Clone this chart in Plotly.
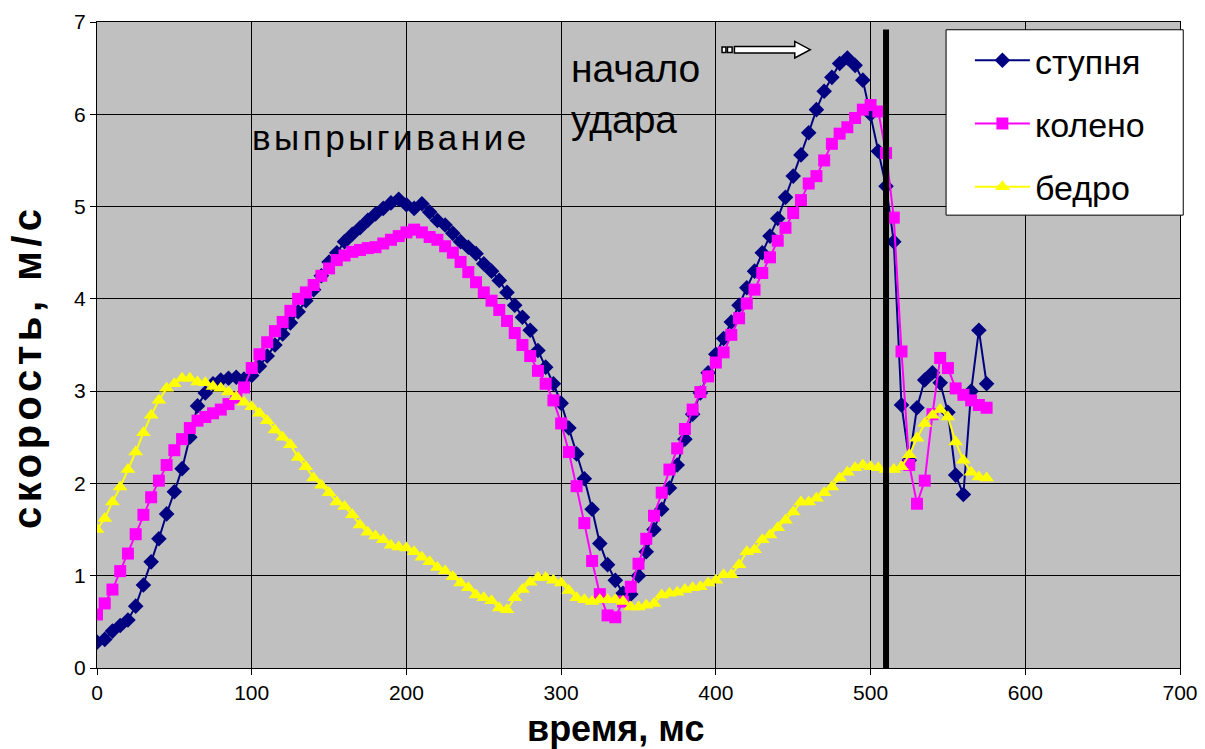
import plotly.graph_objects as go

# time, ms (sampling step 5 ms)
time_ms = [i * 5 for i in range(116)]

# foot velocity, m/s
stupnya = [
    0.28, 0.31, 0.40, 0.46, 0.52, 0.67, 0.90, 1.15, 1.40, 1.67,
    1.91, 2.16, 2.50, 2.84, 2.98, 3.08, 3.12, 3.14, 3.15, 3.13,
    3.17, 3.27, 3.38, 3.50, 3.62, 3.74, 3.86, 3.98, 4.10, 4.25,
    4.40, 4.50, 4.62, 4.70, 4.77, 4.85, 4.92, 4.98, 5.04, 5.08,
    5.02, 4.98, 5.03, 4.94, 4.85, 4.80, 4.71, 4.62, 4.56, 4.49,
    4.38, 4.30, 4.20, 4.07, 3.93, 3.80, 3.66, 3.44, 3.26, 3.08,
    2.87, 2.60, 2.32, 2.05, 1.72, 1.35, 1.12, 0.95, 0.81, 0.80,
    1.00, 1.26, 1.50, 1.72, 1.95, 2.20, 2.48, 2.75, 2.98, 3.20,
    3.40, 3.57, 3.75, 3.93, 4.12, 4.30, 4.50, 4.68, 4.87, 5.10,
    5.33, 5.56, 5.80, 6.05, 6.25, 6.40, 6.55, 6.61, 6.53, 6.37,
    6.00, 5.60, 5.22, 4.62, 2.85, 2.25, 2.82, 3.12, 3.20, 3.09,
    2.77, 2.09, 1.88, 3.00, 3.66, 3.08,
]

# knee velocity, m/s
koleno = [
    0.58, 0.70, 0.85, 1.05, 1.24, 1.45, 1.66, 1.85, 2.03, 2.20,
    2.36, 2.48, 2.60, 2.68, 2.72, 2.76, 2.80, 2.86, 2.93, 3.04,
    3.25, 3.40, 3.53, 3.65, 3.75, 3.87, 4.00, 4.07, 4.15, 4.25,
    4.33, 4.42, 4.47, 4.51, 4.53, 4.55, 4.56, 4.60, 4.64, 4.68,
    4.72, 4.75, 4.72, 4.67, 4.64, 4.57, 4.50, 4.40, 4.29, 4.18,
    4.07, 3.98, 3.88, 3.76, 3.63, 3.50, 3.38, 3.22, 3.08, 2.90,
    2.65, 2.34, 1.97, 1.57, 1.16, 0.80, 0.57, 0.55, 0.72, 0.88,
    1.13, 1.40, 1.65, 1.90, 2.15, 2.38, 2.59, 2.80, 2.99, 3.16,
    3.31, 3.42, 3.61, 3.79, 3.95, 4.10, 4.28, 4.45, 4.63, 4.77,
    4.93, 5.07, 5.25, 5.33, 5.50, 5.68, 5.79, 5.86, 5.96, 6.05,
    6.10, 6.03, 5.58, 4.88, 3.43, 2.20, 1.78, 2.03, 2.75, 3.36,
    3.25, 3.03, 2.96, 2.90, 2.85, 2.82,
]

# hip velocity, m/s
bedro = [
    1.50, 1.62, 1.80, 1.96, 2.15, 2.34, 2.55, 2.74, 2.90, 3.03,
    3.08, 3.14, 3.14, 3.10, 3.09, 3.05, 3.03, 2.99, 2.94, 2.88,
    2.83, 2.76, 2.68, 2.58, 2.50, 2.42, 2.28, 2.18, 2.06, 1.98,
    1.90, 1.80, 1.75, 1.66, 1.55, 1.47, 1.43, 1.39, 1.33, 1.31,
    1.30, 1.26, 1.20, 1.15, 1.09, 1.05, 0.99, 0.92, 0.87, 0.79,
    0.76, 0.73, 0.65, 0.63, 0.76, 0.85, 0.93, 0.98, 0.98, 0.95,
    0.92, 0.84, 0.76, 0.74, 0.72, 0.74, 0.74, 0.74, 0.72, 0.66,
    0.66, 0.68, 0.70, 0.79, 0.81, 0.82, 0.85, 0.87, 0.88, 0.92,
    0.95, 1.01, 1.01, 1.12, 1.26, 1.28, 1.39, 1.44, 1.52, 1.60,
    1.69, 1.80, 1.80, 1.84, 1.90, 1.96, 2.06, 2.12, 2.17, 2.20,
    2.18, 2.17, 2.15, 2.15, 2.18, 2.31, 2.49, 2.65, 2.74, 2.80,
    2.72, 2.45, 2.25, 2.12, 2.07, 2.06,
]

x_ticks = [0, 100, 200, 300, 400, 500, 600, 700]
y_ticks = [0, 1, 2, 3, 4, 5, 6, 7]
impact_time = 510

FONT = "Liberation Sans, Arial, sans-serif"

fig = go.Figure()
series = [
    ("ступня", stupnya, "#000080", "diamond", 12),
    ("колено", koleno, "#FF00FF", "square", 12),
    ("бедро", bedro, "#FFFF00", "triangle-up", 13),
]
for name, vals, color, sym, size in series:
    fig.add_trace(go.Scatter(
        x=time_ms, y=vals, name=name, mode="lines+markers",
        line=dict(color=color, width=2),
        marker=dict(symbol=sym, size=size, color=color, line=dict(width=0)),
        legendgroup=name,
    ))

# thick vertical line: start of impact
fig.add_shape(type="line", xref="x", yref="y", x0=impact_time, x1=impact_time,
              y0=0, y1=6.92, line=dict(color="black", width=6), layer="above")

# block arrow near the top
ax0, ax1, ay = 404, 461, 6.70
fig.add_shape(type="rect", xref="x", yref="y", x0=ax0, x1=ax0 + 2.5, y0=ay - 0.03, y1=ay + 0.03,
              line=dict(color="black", width=1.5), fillcolor="white")
fig.add_shape(type="rect", xref="x", yref="y", x0=ax0 + 3.5, x1=ax0 + 6.5, y0=ay - 0.03, y1=ay + 0.03,
              line=dict(color="black", width=1.5), fillcolor="white")
path = (f"M {ax0+8} {ay-0.035} L {ax1-10} {ay-0.035} L {ax1-10} {ay-0.09} L {ax1} {ay} "
        f"L {ax1-10} {ay+0.09} L {ax1-10} {ay+0.035} L {ax0+8} {ay+0.035} Z")
fig.add_shape(type="path", xref="x", yref="y", path=path,
              line=dict(color="black", width=1.5), fillcolor="white")

# legend box (drawn as a shape so its size matches)
fig.add_shape(type="rect", xref="paper", yref="paper", x0=0.784, x1=1.003, y0=0.701, y1=0.988,
              line=dict(color="black", width=1), fillcolor="white", layer="above")

fig.add_annotation(text='<span style="letter-spacing:3.5px">выпрыгивание</span>',
                   x=99, y=5.75, xref="x", yref="y", xanchor="left", yanchor="middle",
                   showarrow=False, font=dict(family=FONT, size=35, color="black"))
fig.add_annotation(text="начало<br>удара", x=305, y=6.22, xref="x", yref="y",
                   xanchor="left", yanchor="middle", align="left", showarrow=False,
                   font=dict(family=FONT, size=39, color="black"))

# axis titles
fig.add_annotation(text='<span style="letter-spacing:4.5px"><b>скорость, м/с</b></span>',
                   x=-0.064, y=0.467, xref="paper", yref="paper",
                   textangle=-90, showarrow=False, xanchor="center", yanchor="middle",
                   font=dict(family=FONT, size=40, color="black"))
fig.add_annotation(text="<b>время, мс</b>", x=0.479, y=-0.094, xref="paper", yref="paper",
                   showarrow=False, xanchor="center", yanchor="middle",
                   font=dict(family=FONT, size=36, color="black"))

axis_common = dict(showgrid=True, gridcolor="black", gridwidth=1, showline=True, mirror=True,
                   linecolor="black", linewidth=1, ticks="outside", ticklen=6, tickcolor="black",
                   tickfont=dict(family=FONT, size=21, color="black"), zeroline=False,
                   automargin=False)

fig.update_xaxes(range=[0, 700], tickvals=x_ticks, **axis_common)
fig.update_yaxes(range=[0, 7], tickvals=y_ticks, **axis_common)

fig.update_layout(
    width=1205, height=749,
    margin=dict(l=97, r=25, t=22, b=81, autoexpand=False),
    paper_bgcolor="white", plot_bgcolor="#C0C0C0",
    font=dict(family=FONT, color="black"),
    showlegend=True,
    legend=dict(x=0.806, y=0.985, xanchor="left", yanchor="top", bgcolor="rgba(0,0,0,0)",
                borderwidth=0, font=dict(family=FONT, size=34, color="black"),
                tracegroupgap=16, itemwidth=55, traceorder="grouped"),
)

fig.write_html("out.html")
